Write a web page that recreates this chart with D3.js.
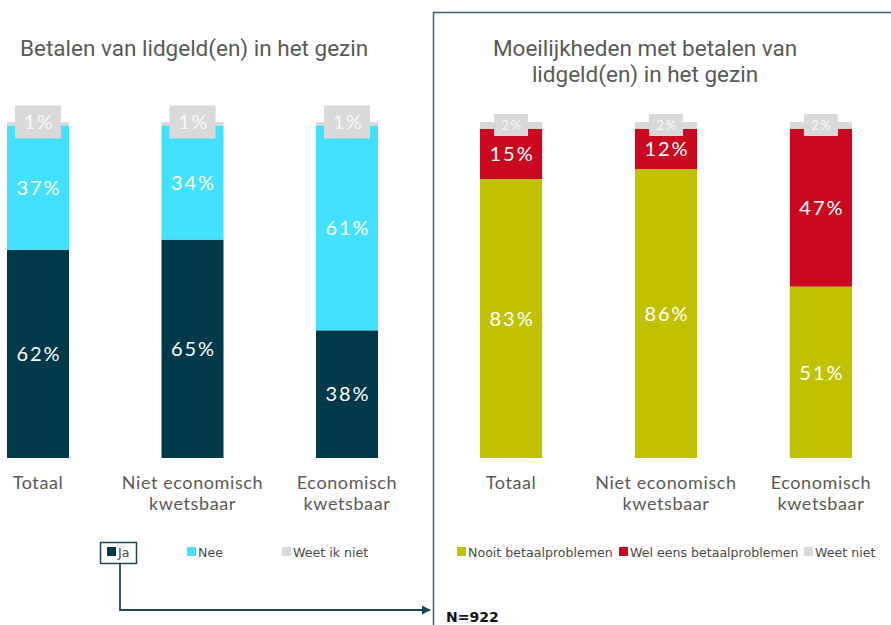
<!DOCTYPE html>
<html>
<head>
<meta charset="utf-8">
<script src="https://cdn.jsdelivr.net/npm/d3@7"></script>
<style>
  html, body { margin: 0; padding: 0; background: #fff; }
  svg { display: block; }
</style>
</head>
<body>
<svg id="chart" width="891" height="625"></svg>
<script>
// Categories shared by both panels
const categories = ["Totaal", "Niet economisch|kwetsbaar", "Economisch|kwetsbaar"];

// Panel 1: paying membership fees in the household
const leftSeries = ["Ja", "Nee", "Weet ik niet"];
const ja = [62, 65, 38];
const nee = [37, 34, 61];
const weetIkNiet = [1, 1, 1];

// Panel 2: difficulties paying membership fees
const rightSeries = ["Nooit betaalproblemen", "Wel eens betaalproblemen", "Weet niet"];
const nooit = [83, 86, 51];
const welEens = [15, 12, 47];
const weetNiet = [2, 2, 2];

const leftColors = ["#003a4a", "#44e0ff", "#d9d9d9"];
const rightColors = ["#c0c200", "#c8091f", "#d9d9d9"];

const svg = d3.select("#chart");
const y = d3.scaleLinear().domain([0, 100]).range([458, 122]);

function drawPanel(opts) {
  const x = d3.scaleBand().domain(categories).range(opts.range)
    .paddingInner(0.5987).paddingOuter(0);
  const rows = categories.map((c, i) => {
    const r = { cat: c };
    opts.keys.forEach((k, j) => r[k] = opts.values[j][i]);
    return r;
  });
  const stacked = d3.stack().keys(opts.keys)(rows);
  const g = svg.append("g");

  stacked.forEach((layer, li) => {
    g.selectAll(null).data(layer).enter().append("rect")
      .attr("x", d => x(d.data.cat))
      .attr("y", d => y(d[1]))
      .attr("width", x.bandwidth())
      .attr("height", d => y(d[0]) - y(d[1]))
      .attr("fill", opts.colors[li]);
  });

  // value labels inside the two main segments
  stacked.slice(0, 2).forEach(layer => {
    g.selectAll(null).data(layer).enter().append("text")
      .attr("x", d => x(d.data.cat) + x.bandwidth() / 2 + 1)
      .attr("y", d => (y(d[0]) + y(d[1])) / 2)
      .attr("dy", "0.36em")
      .attr("text-anchor", "middle")
      .attr("fill", "#ffffff")
      .style("font-family", "Lato, 'Noto Sans', sans-serif")
      .style("font-size", "20px")
      .style("letter-spacing", "2px")
      .text(d => (d[1] - d[0]) + "%");
  });

  // small "don't know" values in a grey tag on top of each bar
  const top = stacked[2];
  const tg = g.selectAll(null).data(top).enter().append("g")
    .attr("transform", d => `translate(${x(d.data.cat) + x.bandwidth() / 2},${y(d[1]) + opts.tagShift})`);
  tg.append("rect")
    .attr("x", -opts.tagW / 2).attr("y", -opts.tagH / 2)
    .attr("width", opts.tagW).attr("height", opts.tagH)
    .attr("fill", "#d9d9d9");
  tg.append("text")
    .attr("x", 1)
    .attr("text-anchor", "middle").attr("dy", "0.36em")
    .attr("fill", "#f7f7f7")
    .style("font-family", "Lato, 'Noto Sans', sans-serif")
    .style("font-size", opts.tagFont + "px")
    .style("letter-spacing", "1.5px")
    .text(d => (d[1] - d[0]) + "%");

  // category labels
  const cl = g.selectAll(null).data(categories).enter().append("text")
    .attr("x", d => x(d) + x.bandwidth() / 2)
    .attr("y", 489)
    .attr("text-anchor", "middle")
    .attr("fill", "#595959")
    .style("font-family", "Lato, 'Noto Sans', sans-serif")
    .style("font-size", "18px")
    .style("letter-spacing", "0.6px");
  cl.each(function (d) {
    const parts = d.split("|");
    const t = d3.select(this);
    parts.forEach((p, i) => {
      t.append("tspan").attr("x", x(d) + x.bandwidth() / 2)
        .attr("dy", i === 0 ? 0 : 21).text(p);
    });
  });

  // legend
  const lg = g.selectAll(null).data(opts.legend).enter().append("g")
    .attr("transform", d => `translate(${d.x},552)`);
  lg.append("rect").attr("x", 0).attr("y", -5).attr("width", 9).attr("height", 9)
    .attr("fill", (d, i) => opts.colors[i]);
  lg.append("text").attr("x", 11).attr("dy", "0.36em")
    .attr("fill", "#4a4a4a")
    .style("font-family", "'DejaVu Sans', Verdana, sans-serif")
    .style("font-size", "12.6px")
    .text(d => d.name);
  return g;
}

drawPanel({
  range: [7, 378],
  keys: leftSeries,
  values: [ja, nee, weetIkNiet],
  colors: leftColors,
  tagW: 46, tagH: 33, tagFont: 20, tagShift: 0,
  legend: [{ name: leftSeries[0], x: 107 }, { name: leftSeries[1], x: 187 }, { name: leftSeries[2], x: 282 }]
});

drawPanel({
  range: [480, 852],
  keys: rightSeries,
  values: [nooit, welEens, weetNiet],
  colors: rightColors,
  tagW: 34, tagH: 22, tagFont: 13, tagShift: 3,
  legend: [{ name: rightSeries[0], x: 457 }, { name: rightSeries[1], x: 619 }, { name: rightSeries[2], x: 804 }]
});

// titles
const titleStyle = sel => sel.attr("fill", "#595959")
  .style("font-family", "Roboto, 'Noto Sans', sans-serif")
  .style("font-size", "22.5px");
svg.append("text").attr("x", 20).attr("y", 56).text("Betalen van lidgeld(en) in het gezin").call(titleStyle);
svg.append("text").attr("x", 645).attr("y", 56).attr("text-anchor", "middle")
  .text("Moeilijkheden met betalen van").call(titleStyle);
svg.append("text").attr("x", 645).attr("y", 82).attr("text-anchor", "middle")
  .text("lidgeld(en) in het gezin").call(titleStyle);

// frame around the second panel
const frame = "#3d6272";
svg.append("path").attr("d", "M433.5,625 V12.5 H891")
  .attr("fill", "none").attr("stroke", frame).attr("stroke-width", 1.5);

// highlight box around "Ja" with connector arrow to the sample size
svg.append("rect").attr("x", 100.5).attr("y", 542.5).attr("width", 36).attr("height", 21)
  .attr("fill", "none").attr("stroke", "#1f4656").attr("stroke-width", 1.5);
svg.append("defs").append("marker").attr("id", "arrow")
  .attr("viewBox", "0 0 10 10").attr("refX", 9).attr("refY", 5)
  .attr("markerWidth", 5).attr("markerHeight", 5).attr("orient", "auto")
  .append("path").attr("d", "M0,0 L10,5 L0,10 Z").attr("fill", "#1f4656");
svg.append("path").attr("d", "M120,564 V610 H430")
  .attr("fill", "none").attr("stroke", "#1f4656").attr("stroke-width", 1.8)
  .attr("marker-end", "url(#arrow)");

svg.append("text").attr("x", 446).attr("y", 622).text("N=922")
  .attr("fill", "#111")
  .style("font-family", "'DejaVu Sans', Verdana, sans-serif")
  .style("font-size", "14px").style("font-weight", "bold");
</script>
</body>
</html>
